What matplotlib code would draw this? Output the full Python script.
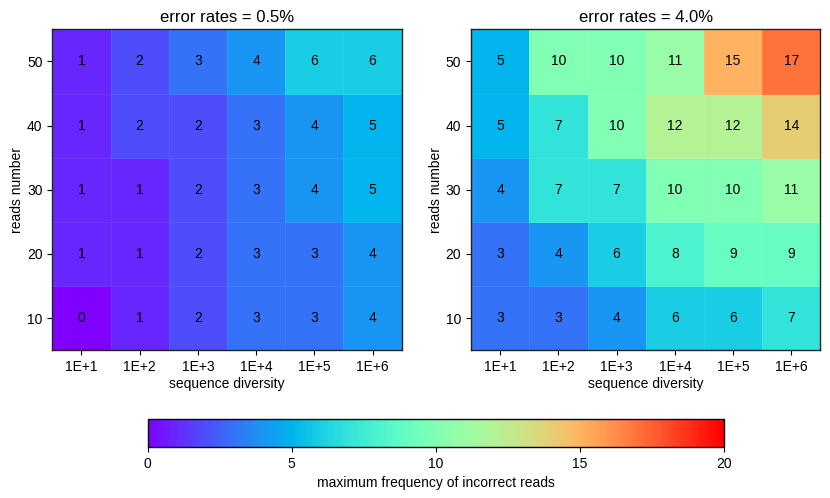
import numpy as np
import matplotlib
matplotlib.use("Agg")
import matplotlib.pyplot as plt

plt.rcParams['font.family'] = ['Liberation Sans', 'DejaVu Sans']

diversity_labels = ["1E+1", "1E+2", "1E+3", "1E+4", "1E+5", "1E+6"]
reads_numbers = [10, 20, 30, 40, 50]
titles = ["error rates = 0.5%", "error rates = 4.0%"]

# rows ordered by reads number 10, 20, 30, 40, 50
values_05 = [
    [0, 1, 2, 3, 3, 4],
    [1, 1, 2, 3, 3, 4],
    [1, 1, 2, 3, 4, 5],
    [1, 2, 2, 3, 4, 5],
    [1, 2, 3, 4, 6, 6],
]
values_40 = [
    [3, 3, 4, 6, 6, 7],
    [3, 4, 6, 8, 9, 9],
    [4, 7, 7, 10, 10, 11],
    [5, 7, 10, 12, 12, 14],
    [5, 10, 10, 11, 15, 17],
]

fig = plt.figure(figsize=(8.3, 4.98), dpi=100)
ax_pos = [[0.063, 0.297, 0.421, 0.644], [0.5675, 0.297, 0.421, 0.644]]
cmap = plt.get_cmap('rainbow')

mesh = None
for pos, vals, title in zip(ax_pos, [values_05, values_40], titles):
    ax = fig.add_axes(pos)
    data = np.array(vals, dtype=float)
    xe = np.arange(len(diversity_labels) + 1) - 0.5
    ye = np.array(reads_numbers + [reads_numbers[-1] + 10], dtype=float) - 5
    mesh = ax.pcolormesh(xe, ye, data, cmap=cmap, vmin=0, vmax=20,
                         edgecolor=(1, 1, 1, 0.08), linewidth=0.5)
    for i, r in enumerate(reads_numbers):
        for j in range(len(diversity_labels)):
            ax.text(j, r, f"{int(data[i, j])}", ha='center', va='center',
                    fontsize=10, color='black')
    ax.set_xticks(range(len(diversity_labels)))
    ax.set_xticklabels(diversity_labels, fontsize=10)
    ax.set_yticks(reads_numbers)
    ax.set_yticklabels([str(r) for r in reads_numbers], fontsize=10)
    ax.set_xlim(xe[0], xe[-1])
    ax.set_ylim(ye[0], ye[-1])
    ax.set_xlabel("sequence diversity", fontsize=10, labelpad=2)
    ax.set_ylabel("reads number", fontsize=10, labelpad=2)
    ax.set_title(title, fontsize=12, pad=5)
    for s in ax.spines.values():
        s.set_linewidth(1.0)
        s.set_color('#222222')

cax = fig.add_axes([0.178, 0.1024, 0.694, 0.0562])
cb = fig.colorbar(mesh, cax=cax, orientation='horizontal')
cb.set_ticks([0, 5, 10, 15, 20])
cb.ax.tick_params(labelsize=10)
cb.set_label("maximum frequency of incorrect reads", fontsize=10, labelpad=4)
cb.outline.set_linewidth(1.0)

fig.savefig("out.png", dpi=100)
